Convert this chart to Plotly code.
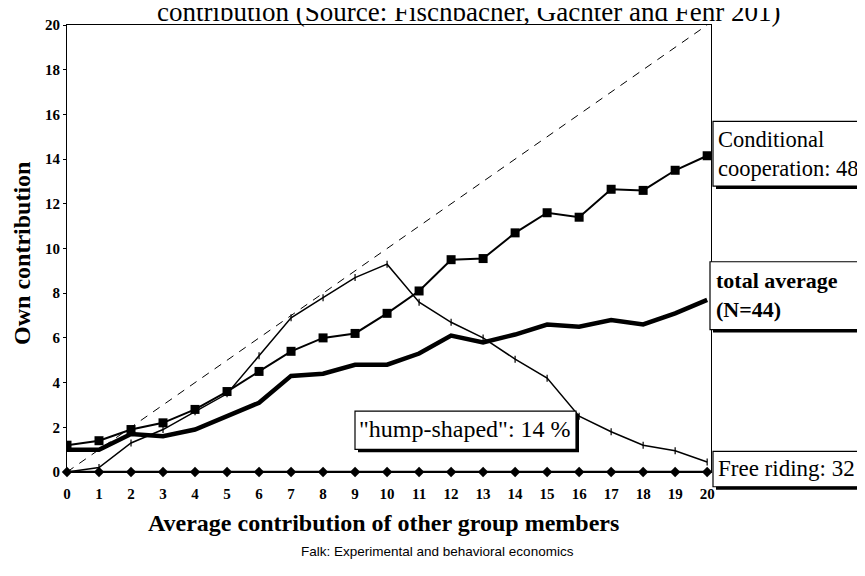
import plotly.graph_objects as go

# x = average contribution of other group members
others = list(range(21))

conditional = [1.2, 1.4, 1.9, 2.2, 2.8, 3.6, 4.5, 5.4, 6.0, 6.2, 7.1,
               8.1, 9.5, 9.55, 10.7, 11.6, 11.4, 12.65, 12.6, 13.5, 14.15]
total_avg = [1.0, 1.0, 1.7, 1.6, 1.9, 2.5, 3.1, 4.3, 4.4, 4.8, 4.8,
             5.3, 6.1, 5.8, 6.15, 6.6, 6.5, 6.8, 6.6, 7.1, 7.7]
hump = [0.0, 0.2, 1.3, 1.9, 2.7, 3.5, 5.2, 6.9, 7.8, 8.7, 9.3,
        7.6, 6.7, 6.0, 5.05, 4.2, 2.5, 1.8, 1.2, 0.95, 0.45]
free_riding = [0.0] * 21
diag_x = [0, 20]
diag_y = [0, 20]

yticks = list(range(0, 21, 2))

SERIF = "Liberation Serif"

# plot area in page pixels; the html page adds an 8px body margin
OFF = 8
L, R, T, B = 67, 711, 17, 472
def px(x):
    return (x - L) / (R - L)
def py(y):
    return (B - y) / (B - T)

fig = go.Figure()
fig.add_trace(go.Scatter(x=diag_x, y=diag_y, mode='lines',
                         line=dict(color='black', width=1, dash='8px,7px')))
fig.add_trace(go.Scatter(x=others, y=hump, mode='lines+markers',
                         line=dict(color='black', width=1.5),
                         marker=dict(symbol='line-ns-open', size=5, line=dict(width=1.2, color='black'))))
fig.add_trace(go.Scatter(x=others, y=total_avg, mode='lines',
                         line=dict(color='black', width=4.5)))
fig.add_trace(go.Scatter(x=others, y=conditional, mode='lines+markers',
                         line=dict(color='black', width=2),
                         marker=dict(symbol='square', size=9, color='black')))
fig.add_trace(go.Scatter(x=others, y=free_riding, mode='lines+markers', cliponaxis=False,
                         line=dict(color='black', width=2.5),
                         marker=dict(symbol='diamond', size=8, color='black')))

fig.update_layout(
    width=865, height=576,
    margin=dict(l=L - OFF, r=865 - (R - OFF), t=T - OFF, b=576 - (B - OFF)),
    plot_bgcolor='white', paper_bgcolor='white',
    showlegend=False,
    font=dict(family=SERIF, color='black'),
)
fig.update_xaxes(range=[0, 20.12], tickvals=others, showgrid=False, zeroline=False,
                 showline=True, linecolor='black', linewidth=1, mirror=True,
                 ticks='', ticklabelstandoff=8,
                 tickfont=dict(family=SERIF, size=15, weight='bold'))
fig.update_yaxes(range=[0, 20], tickvals=yticks, showgrid=False, zeroline=False,
                 showline=True, linecolor='black', linewidth=1, mirror=True,
                 ticks='outside', ticklen=3, tickcolor='black',
                 tickfont=dict(family=SERIF, size=15, weight='bold'))

# boxes with a slight drop shadow
boxes = [(713, 115, 880, 181), (710, 258, 859, 327), (355, 410, 576, 449), (713, 451, 880, 487)]
for x0, y0, x1, y1 in boxes:
    fig.add_shape(type='rect', xref='paper', yref='paper',
                  x0=px(x0 + 3), x1=px(x1 + 3), y0=py(y1 + 3), y1=py(y0 + 3),
                  fillcolor='black', line=dict(width=0))
    fig.add_shape(type='rect', xref='paper', yref='paper',
                  x0=px(x0), x1=px(x1), y0=py(y1), y1=py(y0),
                  fillcolor='white', line=dict(color='black', width=1.2))

def note(text, x, y, size=20, xanchor='left', yanchor='middle', bold=False, family=SERIF, angle=0):
    fig.add_annotation(text=text, xref='paper', yref='paper', x=x, y=y,
                       xanchor=xanchor, yanchor=yanchor, showarrow=False, align='left',
                       textangle=angle,
                       font=dict(family=family, size=size, color='black',
                                 weight='bold' if bold else 'normal'))

note("contribution (Source: Fischbacher, Gächter and Fehr 201)", px(468), py(4), size=27, xanchor='center')
note("Own contribution", px(22), py(250), size=24, xanchor='center', bold=True, angle=-90)
note("Average contribution of other group members", px(383), py(524), size=24, xanchor='center', bold=True)
note("Falk: Experimental and behavioral economics", px(437), py(553), size=13.5, xanchor='center',
     family="Liberation Sans")
note("Conditional<br>cooperation: 48", px(716), py(148), size=22.5)
note("total average<br>(N=44)", px(714), py(292), size=22, bold=True)
note("\"hump-shaped\": 14 %", px(465), py(428), size=24, xanchor='center')
note("Free riding: 32", px(716), py(468), size=23)

fig.write_html("out.html")
